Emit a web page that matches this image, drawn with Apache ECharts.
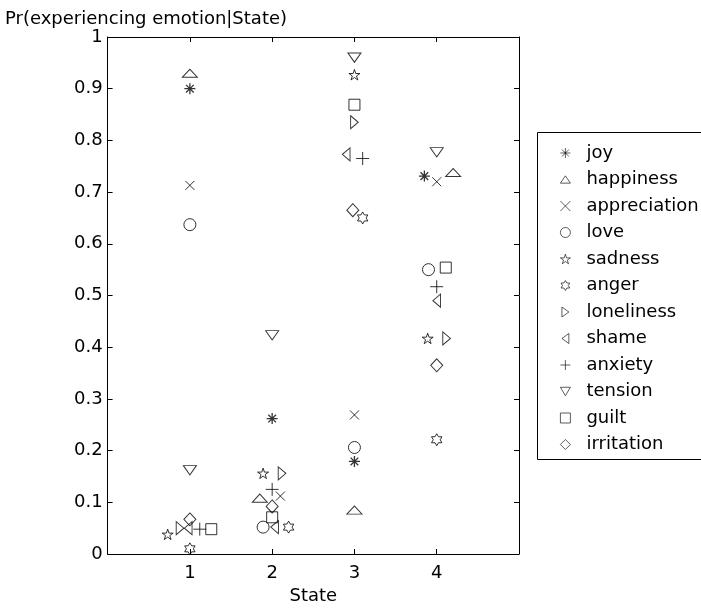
<!DOCTYPE html>
<html><head><meta charset="utf-8">
<script src="https://cdn.jsdelivr.net/npm/echarts@6/dist/echarts.min.js"></script>
<style>html,body{margin:0;padding:0;background:#fff}#c{width:701px;height:610px}</style>
</head><body><div id="c"></div>
<script>
const emotions = ['joy','happiness','appreciation','love','sadness','anger','loneliness','shame','anxiety','tension','guilt','irritation'];
const xTicks = [1, 2, 3, 4];
// x position of each marker (state number, slightly jittered as in the picture)
const joyX = [1.0, 2.0, 3.0, 3.85];           const joyY = [0.900, 0.262, 0.179, 0.731];
const happinessX = [1.0, 1.85, 3.0, 4.2];     const happinessY = [0.930, 0.108, 0.085, 0.738];
const appreciationX = [1.0, 2.1, 3.0, 4.0];   const appreciationY = [0.713, 0.112, 0.269, 0.720];
const loveX = [1.0, 1.89, 3.0, 3.9];          const loveY = [0.637, 0.052, 0.206, 0.550];
const sadnessX = [0.73, 1.89, 3.0, 3.89];     const sadnessY = [0.038, 0.156, 0.927, 0.417];
const angerX = [1.0, 2.2, 3.1, 4.0];          const angerY = [0.010, 0.052, 0.650, 0.221];
const lonelinessX = [0.88, 2.12, 3.0, 4.12];  const lonelinessY = [0.050, 0.156, 0.835, 0.417];
const shameX = [0.98, 2.03, 2.9, 4.0];        const shameY = [0.050, 0.052, 0.773, 0.490];
const anxietyX = [1.12, 2.0, 3.1, 4.0];       const anxietyY = [0.048, 0.125, 0.765, 0.517];
const tensionX = [1.0, 2.0, 3.0, 4.0];        const tensionY = [0.162, 0.423, 0.960, 0.777];
const guiltX = [1.26, 2.0, 3.0, 4.11];        const guiltY = [0.048, 0.071, 0.869, 0.554];
const irritationX = [1.0, 2.0, 2.98, 4.0];    const irritationY = [0.067, 0.092, 0.665, 0.365];

const xs = [joyX, happinessX, appreciationX, loveX, sadnessX, angerX, lonelinessX, shameX, anxietyX, tensionX, guiltX, irritationX];
const ys = [joyY, happinessY, appreciationY, loveY, sadnessY, angerY, lonelinessY, shameY, anxietyY, tensionY, guiltY, irritationY];

const symbols = [
  'path://M0,5L10,5M5,0L5,10M1.5,1.5L8.5,8.5M8.5,1.5L1.5,8.5',
  'path://M0,11L7.5,0L15,11Z',
  'path://M0,0L10,10M10,0L0,10',
  'circle',
  'path://M10,0L12.245,6.91L19.51,6.91L13.63,11.18L15.88,18.09L10,13.82L4.12,18.09L6.37,11.18L0.49,6.91L7.755,6.91Z',
  'path://M10,0L12.887,5L18.66,5L15.77,10L18.66,15L12.887,15L10,20L7.113,15L1.34,15L4.23,10L1.34,5L7.113,5Z',
  'path://M0,0L9,6.5L0,13Z',
  'path://M9,0L0,6.5L9,13Z',
  'path://M0,5L10,5M5,0L5,10',
  'path://M0,0L13,0L6.5,11Z',
  'rect',
  'diamond'
];
const sizes = [[11,11],[15,11],[9,9],[12,12],[11,11],[12,12],[11,13],[11,13],[13,13],[13,11],[11,11],[12,13]];

const FONT = 'DejaVu Sans, Liberation Sans, Arial, sans-serif';
const series = emotions.map((name, i) => ({
  name: name,
  type: 'scatter',
  symbol: symbols[i],
  symbolSize: sizes[i],
  symbolKeepAspect: true,
  itemStyle: { color: 'transparent', borderColor: '#000', borderWidth: i === 0 ? 1.3 : 1 },
  emphasis: { disabled: true },
  data: xs[i].map((x, k) => [x, ys[i][k]]),
  z: 3
}));

const chart = echarts.init(document.getElementById('c'), null, { renderer: 'canvas' });
chart.setOption({
  animation: false,
  backgroundColor: '#fff',
  textStyle: { fontFamily: FONT },
  title: { text: 'Pr(experiencing emotion|State)', left: 0, top: 5,
    textStyle: { fontFamily: FONT, fontSize: 18, fontWeight: 'normal', color: '#000' } },
  grid: { left: 107.6, right: 182, top: 37, bottom: 53 },
  xAxis: [
    { type: 'value', min: 0, max: 5, interval: 1, position: 'bottom',
      name: 'State', nameLocation: 'middle', nameGap: 33,
      nameTextStyle: { fontFamily: FONT, fontSize: 18, color: '#000' },
      axisLine: { onZero: false, lineStyle: { color: '#000', width: 1 } },
      axisTick: { inside: true, length: 5, lineStyle: { color: '#000' } },
      axisLabel: { fontFamily: FONT, fontSize: 18, color: '#000', margin: 10,
        formatter: v => xTicks.includes(v) ? String(v) : '' },
      splitLine: { show: false } },
    { type: 'value', min: 0, max: 5, interval: 1, position: 'top',
      axisLine: { onZero: false, lineStyle: { color: '#000', width: 1 } },
      axisTick: { inside: true, length: 5, lineStyle: { color: '#000' } },
      axisLabel: { show: false }, splitLine: { show: false } }
  ],
  yAxis: [
    { type: 'value', min: 0, max: 1, interval: 0.1, position: 'left',
      axisLine: { show: true, onZero: false, lineStyle: { color: '#000', width: 1 } },
      axisTick: { show: true, inside: true, length: 5, lineStyle: { color: '#000' } },
      axisLabel: { fontFamily: FONT, fontSize: 18, color: '#000', margin: 5 },
      splitLine: { show: false } },
    { type: 'value', min: 0, max: 1, interval: 0.1, position: 'right',
      axisLine: { show: true, onZero: false, lineStyle: { color: '#000', width: 1 } },
      axisTick: { show: true, inside: true, length: 5, lineStyle: { color: '#000' } },
      axisLabel: { show: false }, splitLine: { show: false } }
  ],
  legend: {
    orient: 'vertical', left: 555, top: 138,
    itemWidth: 10, itemHeight: 10, itemGap: 6.5,
    selectedMode: false,
    data: emotions,
    itemStyle: { color: 'transparent', borderColor: '#000', borderWidth: 0.8 },
    textStyle: { fontFamily: FONT, fontSize: 18, color: '#000', lineHeight: 20, padding: [0, 0, 0, 11] }
  },
  graphic: [
    { type: 'rect', shape: { x: 537.5, y: 132.5, width: 180, height: 327 },
      style: { fill: 'none', stroke: '#000', lineWidth: 1 }, z: 10 }
  ],
  series: series
});
</script></body></html>
